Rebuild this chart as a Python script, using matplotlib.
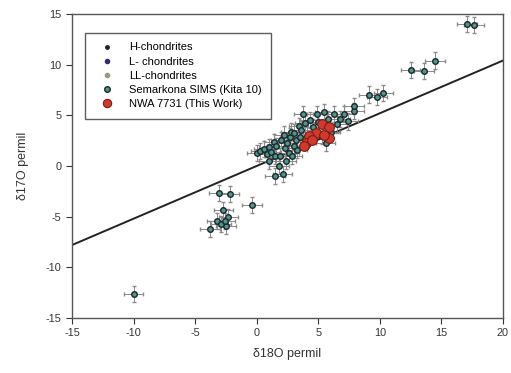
import matplotlib
matplotlib.use("Agg")
import matplotlib.pyplot as plt
import numpy as np

plt.rcParams['font.family'] = ['Liberation Sans', 'DejaVu Sans']
plt.rcParams['axes.unicode_minus'] = False

# Semarkona SIMS (Kita 10) points
semarkona_d18 = [0.0, 0.3, 0.6, 0.8, 1.0, 1.2, 1.4, 1.5, 1.6, 1.8, 1.5, 2.1, 1.9, 2.0, 2.2, 2.3,
                 2.5, 2.6, 2.7, 2.8, 3.0, 3.0, 3.2, 3.3, 3.4, 3.5, 3.6, 3.8, 3.9, 4.1, 4.3, 4.6,
                 4.9, 5.0, 5.3, 5.5, 5.6, 5.8, 6.0, 6.3, 6.5, 6.8, 7.1, 7.4, 7.9, 2.4, 1.0, 2.9,
                 7.9, 9.1, 9.8, 10.3, 12.5, 13.6, 14.5, 17.1, 17.65,
                 -3.06, -2.2, -0.4, -2.7, -2.3, -3.2, -2.5, -3.8, -2.9, -2.6, -10.0]
semarkona_d17 = [1.3, 1.5, 1.7, 1.2, 1.9, 1.4, 2.4, 1.0, 2.0, 0.0, -1.0, -0.8, 1.0, 2.6, 3.1, 1.8,
                 2.3, 1.3, 2.9, 3.4, 3.3, 2.0, 2.6, 1.6, 3.9, 2.9, 3.6, 5.1, 4.2, 3.0, 4.5, 3.8,
                 5.1, 4.3, 3.0, 5.3, 2.3, 4.6, 3.4, 5.1, 4.1, 4.6, 5.1, 4.4, 5.4, 0.5, 0.5, 1.0,
                 5.9, 7.05, 6.8, 7.2, 9.45, 9.35, 10.4, 14.0, 13.9,
                 -2.7, -2.75, -3.87, -4.35, -5.0, -5.4, -5.9, -6.2, -5.7, -5.45, -12.6]
semarkona_xerr = 0.8
semarkona_yerr = 0.8

# NWA 7731 (This Work)
nwa_d18 = [5.3, 5.9, 4.8, 4.25, 4.0, 3.85, 5.9, 5.45, 4.5]
nwa_d17 = [4.1, 3.8, 3.3, 2.95, 2.3, 1.95, 2.8, 3.1, 2.6]

# Terrestrial fractionation line
tfl_x = [-15, 20]
tfl_slope = 0.52

xticks = [-15, -10, -5, 0, 5, 10, 15, 20]
yticks = [-15, -10, -5, 0, 5, 10, 15]

fig = plt.figure(figsize=(5.11, 3.73), dpi=100)
ax = fig.add_axes([0.141, 0.1475, 0.843, 0.815])

tx = np.array(tfl_x, dtype=float)
ax.plot(tx, tfl_slope * tx, color='#222222', lw=1.4, zorder=2)

ax.errorbar(semarkona_d18, semarkona_d17, xerr=semarkona_xerr, yerr=semarkona_yerr,
            fmt='o', ms=4.0, mfc='#4f9690', mec='#1c2626', mew=1.0,
            ecolor='#8a8a8a', elinewidth=0.7, capsize=1.5, capthick=0.7, zorder=3)
ax.plot(nwa_d18, nwa_d17, 'o', ms=7, mfc='#d0392b', mec='#7a1d14', mew=0.8, zorder=4,
        linestyle='none')

# legend handles
h1, = ax.plot([], [], 'o', ms=2.5, color='#222222', linestyle='none')
h2, = ax.plot([], [], 'o', ms=3, color='#2e2e70', linestyle='none')
h3, = ax.plot([], [], 'o', ms=3, color='#9a9a78', linestyle='none')
h4, = ax.plot([], [], 'o', ms=4, mfc='#4f9690', mec='#1c2626', mew=1.0, linestyle='none')
h5, = ax.plot([], [], 'o', ms=6, mfc='#d0392b', mec='#7a1d14', mew=0.8, linestyle='none')
leg = ax.legend([h1, h2, h3, h4, h5],
                ['H-chondrites', 'L- chondrites', 'LL-chondrites',
                 'Semarkona SIMS (Kita 10)', 'NWA 7731 (This Work)'],
                loc='upper left', bbox_to_anchor=(0.03, 0.9375), borderaxespad=0,
                fontsize=8, frameon=True, fancybox=False, edgecolor='#333333',
                labelspacing=0.38, handlelength=2.2, handletextpad=0.9, borderpad=0.85)
leg.get_frame().set_linewidth(1.0)

ax.set_xlim(-15, 20)
ax.set_ylim(-15, 15)
ax.set_xticks(xticks)
ax.set_yticks(yticks)
ax.tick_params(direction='out', length=4, width=0.8, labelsize=7.8, colors='#333333',
               top=False, right=False)
for s in ax.spines.values():
    s.set_color('#555555')
    s.set_linewidth(1.0)

ax.set_xlabel('δ18O permil', fontsize=9, color='#333333', labelpad=7)
ax.set_ylabel('δ17O permil', fontsize=9, color='#333333', labelpad=12)

fig.savefig('out.png', dpi=100)
